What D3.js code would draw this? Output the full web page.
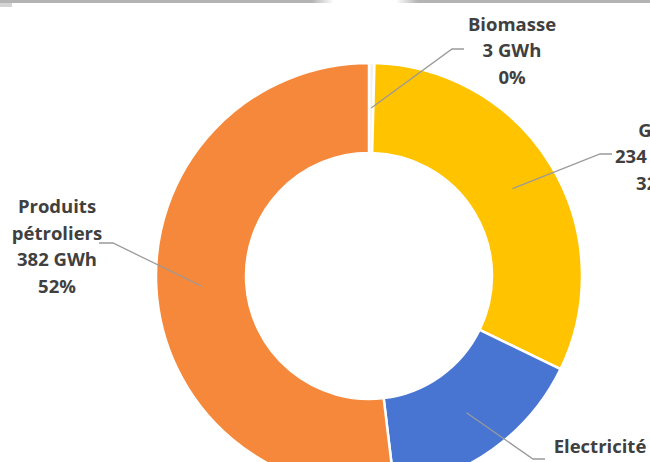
<!DOCTYPE html>
<html>
<head>
<meta charset="utf-8">
<script src="https://cdn.jsdelivr.net/npm/d3@7"></script>
<style>
  html, body { margin: 0; padding: 0; background: #fff; }
  svg { display: block; }
  .lbl { font-family: "Open Sans", sans-serif; font-weight: 700; font-size: 18.5px; fill: #404040; }
</style>
</head>
<body>
<svg id="chart" width="650" height="462"></svg>
<script>
// Consommation d'énergie par source (GWh)
const categories = ["Biomasse", "Gaz", "Electricité", "Produits pétroliers"];
const values = [3, 234, 117, 382];
const unit = "GWh";

// Label lines per category (the long name wraps on two lines)
const nameLines = [["Biomasse"], ["Gaz"], ["Electricité"], ["Produits", "pétroliers"]];

const colors = ["#f4f1ec", "#ffc300", "#4775d1", "#f5883a"];

// Layout: donut geometry and label placement
const W = 650, H = 462;
const cx = 369, cy = 276;
const rOuter = 213, rInner = 123;
const lineH = 26.5;
// label block centre (x, middle y) and leader elbow for each slice
const labelLayout = [
  { x: 512, y: 49,  elbow: [452, 49] },
  { x: 655, y: 155, elbow: [600, 154] },
  { x: 600, y: 471, elbow: [533, 459] },
  { x: 57,  y: 245, elbow: [113, 243] }
];

const svg = d3.select("#chart");

// thin grey strip along the top edge
const topBar = svg.append("g");
const grad = svg.append("defs");
function fade(id, from, to) {
  const g = grad.append("linearGradient").attr("id", id);
  g.append("stop").attr("offset", "0%").attr("stop-color", "#b4b4b4").attr("stop-opacity", from);
  g.append("stop").attr("offset", "100%").attr("stop-color", "#b4b4b4").attr("stop-opacity", to);
}
fade("fadeOut", 1, 0);
fade("fadeIn", 0, 1);
topBar.append("rect").attr("x", 0).attr("y", 0).attr("width", 312).attr("height", 3).attr("fill", "#b4b4b4");
topBar.append("rect").attr("x", 312).attr("y", 0).attr("width", 22).attr("height", 3).attr("fill", "url(#fadeOut)");
topBar.append("rect").attr("x", 396).attr("y", 0).attr("width", 22).attr("height", 3).attr("fill", "url(#fadeIn)");
topBar.append("rect").attr("x", 418).attr("y", 0).attr("width", W - 418).attr("height", 3).attr("fill", "#b4b4b4");
topBar.append("rect").attr("x", 0).attr("y", 3).attr("width", 12).attr("height", 4).attr("fill", "#d4d4d4");

const data = categories.map((c, i) => ({ name: c, value: values[i], idx: i }));
const total = d3.sum(values);

const pie = d3.pie().value(d => d.value).sort(null);
const arcs = pie(data);

const arc = d3.arc().innerRadius(rInner).outerRadius(rOuter);

const g = svg.append("g").attr("transform", `translate(${cx},${cy})`);

g.selectAll("path.slice")
  .data(arcs)
  .join("path")
  .attr("class", "slice")
  .attr("d", arc)
  .attr("fill", d => colors[d.data.idx])
  .attr("stroke", "#fff")
  .attr("stroke-width", 2.5)
  .attr("stroke-linejoin", "round");

// leader lines from the middle of each ring segment to its label
const leaders = svg.append("g");
arcs.forEach(a => {
  const c = arc.centroid(a);
  const L = labelLayout[a.data.idx];
  const start = [cx + c[0], cy + c[1]];
  const endX = L.x < start[0] ? L.elbow[0] - 14 : L.elbow[0] + 12;
  const pts = [start, L.elbow, [endX, L.elbow[1]]];
  leaders.append("path")
    .attr("d", d3.line()(pts))
    .attr("fill", "none")
    .attr("stroke", "#9a9a9a")
    .attr("stroke-width", 1.3);
});

// labels: name, value and share
const labels = svg.append("g");
arcs.forEach(a => {
  const i = a.data.idx;
  const L = labelLayout[i];
  const lines = nameLines[i].concat([`${values[i]} ${unit}`, `${Math.round(values[i] / total * 100)}%`]);
  const top = L.y - (lines.length - 1) * lineH / 2;
  const t = labels.append("text")
    .attr("class", "lbl")
    .attr("text-anchor", "middle")
    .attr("dominant-baseline", "central");
  lines.forEach((s, k) => {
    t.append("tspan").attr("x", L.x).attr("y", top + k * lineH).text(s);
  });
});
</script>
</body>
</html>
